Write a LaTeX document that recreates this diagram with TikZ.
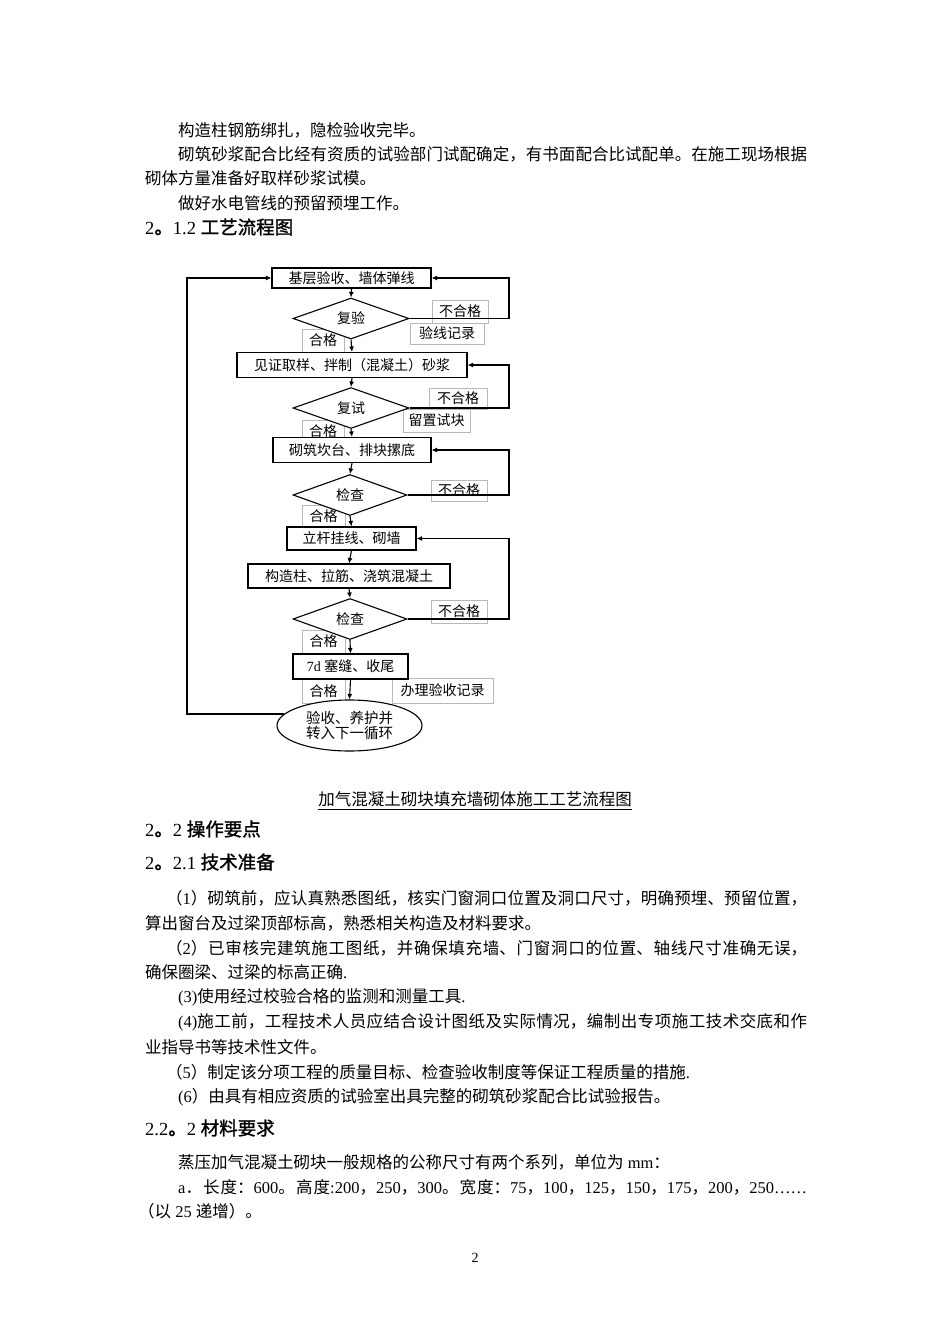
\documentclass[tikz,border=0pt]{standalone}
\usepackage{fontspec}
\setmainfont{Liberation Serif}
\newfontfamily\cjk{Noto Sans CJK SC}
\newfontfamily\cjkh[FakeBold=1.3]{Noto Sans CJK SC}
\newfontfamily\ltnfont{Liberation Serif}
\newcommand\ltn[1]{{\ltnfont #1}}
\usetikzlibrary{shapes.geometric,arrows.meta}
\XeTeXlinebreaklocale "zh"
\XeTeXlinebreakskip=0pt plus 6pt minus 0.3pt
\begin{document}
\begin{tikzpicture}[x=1pt,y=-1pt,
  fc/.style={font=\cjk\fontsize{14}{16}\selectfont, inner sep=0pt},
  pbox/.style={fc, draw, line width=1.1pt, fill=white, rectangle},
  pdia/.style={fc, draw, line width=1.1pt, fill=white, diamond},
  plab/.style={fc, draw=black!28, line width=0.6pt, rectangle},
  pell/.style={draw, line width=1.1pt, fill=white, ellipse, align=center, inner sep=0pt,
    font=\cjk\fontsize{14.5}{15.5}\selectfont},
  flow/.style={line width=1.1pt, -{Latex[length=5.5pt,width=5pt]}},
  body/.style={anchor=west, inner sep=0pt, font=\cjk\fontsize{16.5}{19}\selectfont},
  jbody/.style={body, text width=#1, align=justify,
    execute at begin node={\parfillskip=0pt\relax}},
  head/.style={anchor=west, inner sep=0pt, font=\cjkh\fontsize{18.5}{21}\selectfont},
  captxt/.style={inner sep=0pt, font=\cjk\fontsize{16.5}{19}\selectfont}
]
\fill[white] (0,0) rectangle (950,1344);
\useasboundingbox (0,0) rectangle (950,1344);

% ---------- top text ----------
\node[body] (t1) at (178,130) {构造柱钢筋绑扎，隐检验收完毕。};
\node[jbody=629pt] (t2) at (178,154) {砌筑砂浆配合比经有资质的试验部门试配确定，有书面配合比试配单。在施工现场根据};
\node[body] (t3) at (145,178) {砌体方量准备好取样砂浆试模。};
\node[body] (t4) at (178,203) {做好水电管线的预留预埋工作。};
\node[head] (h1) at (145,227) {\ltn{2}。\ltn{1.2 }工艺流程图};

% ---------- labels (drawn first) ----------
\node[plab, minimum width=56pt, minimum height=23pt] (l1) at (460,311.5) {不合格};
\node[plab, minimum width=74pt, minimum height=21pt] (l2) at (447,333.5) {验线记录};
\node[plab, minimum width=42pt, minimum height=23pt] (l3) at (323,340.5) {合格};
\node[plab, minimum width=58pt, minimum height=21pt] (l4) at (458,398.5) {不合格};
\node[plab, minimum width=67pt, minimum height=23pt] (l5) at (436.5,420.5) {留置试块};
\node[plab, minimum width=42pt, minimum height=22pt] (l6) at (323,431) {合格};
\node[plab, minimum width=56pt, minimum height=21pt] (l7) at (459,490.5) {不合格};
\node[plab, minimum width=43pt, minimum height=22pt] (l8) at (323.5,516) {合格};
\node[plab, minimum width=56pt, minimum height=23pt] (l9) at (459,611.5) {不合格};
\node[plab, minimum width=43pt, minimum height=23pt] (l10) at (323.5,641.5) {合格};
\node[plab, minimum width=43pt, minimum height=24pt] (l11) at (323.5,691) {合格};
\node[plab, minimum width=101pt, minimum height=25pt] (l12) at (442.5,690.5) {办理验收记录};

% ---------- flow nodes ----------
\node[pbox, minimum width=159pt, minimum height=20pt] (b1) at (351.5,278) {基层验收、墙体弹线};
\node[pdia, minimum width=116pt, minimum height=39pt] (d1) at (351,318.5) {复验};
\node[pbox, minimum width=230pt, minimum height=25pt] (b2) at (352,365) {见证取样、拌制（混凝土）砂浆};
\node[pdia, minimum width=116pt, minimum height=40pt] (d2) at (351,408) {复试};
\node[pbox, minimum width=158pt, minimum height=25pt] (b3) at (352,450) {砌筑坎台、排块摞底};
\node[pdia, minimum width=114pt, minimum height=36pt] (d3) at (350,495) {检查};
\node[pbox, minimum width=129pt, minimum height=23pt] (b4) at (351.5,538.5) {立杆挂线、砌墙};
\node[pbox, minimum width=202pt, minimum height=24pt] (b5) at (349,576) {构造柱、拉筋、浇筑混凝土};
\node[pdia, minimum width=114pt, minimum height=36pt] (d4) at (350,619) {检查};
\node[pbox, minimum width=115pt, minimum height=25pt] (b6) at (350.5,666.5) {\ltn{7d }塞缝、收尾};
\node[pell, minimum width=145pt, minimum height=51pt] (el) at (349.5,725.5) {\raisebox{-2pt}{验收、养护并}\\\raisebox{-2pt}{转入下一循环}};

\coordinate (rx) at (509,0);
\coordinate (lx) at (187,0);

% ---------- connectors ----------
\draw[flow] (b1.south) -- (d1.north);
\draw[flow] (d1.south) -- (b2.north);
\draw[flow] (b2.south) -- (d2.north);
\draw[flow] (d2.south) -- (b3.north);
\draw[flow] (b3.south) -- (d3.north);
\draw[flow] (d3.south) -- (b4.north);
\draw[flow] (b4.south) -- (b5.north);
\draw[flow] (b5.south) -- (d4.north);
\draw[flow] (d4.south) -- (b6.north);
\draw[flow] (b6.south) -- (el.north);

\draw[flow] (d1.east) -- (d1.east -| rx) |- (b1.east);
\draw[flow] (d2.east) -- (d2.east -| rx) |- (b2.east);
\draw[flow] (d3.east) -- (d3.east -| rx) |- (b3.east);
\draw[flow] (d4.east) -- (d4.east -| rx) |- (b4.east);
\draw[flow] (el.170) -- (el.170 -| lx) |- (b1.west);

% ---------- caption ----------
\node[captxt] (cp) at (475,799) {加气混凝土砌块填充墙砌体施工工艺流程图};
\draw[line width=0.7pt] ([yshift=-2pt]cp.south west) -- ([yshift=-2pt]cp.south east);

% ---------- lower text ----------
\node[head] (h2) at (145,829) {\ltn{2}。\ltn{2 }操作要点};
\node[head] (h3) at (145,862) {\ltn{2}。\ltn{2.1 }技术准备};
\node[jbody=641pt] (p1) at (166,898) {（\ltn{1}）砌筑前，应认真熟悉图纸，核实门窗洞口位置及洞口尺寸，明确预埋、预留位置，};
\node[body] (p2) at (145,923) {算出窗台及过梁顶部标高，熟悉相关构造及材料要求。};
\node[jbody=641pt] (p3) at (166,948) {（\ltn{2}）已审核完建筑施工图纸，并确保填充墙、门窗洞口的位置、轴线尺寸准确无误，};
\node[body] (p4) at (145,972) {确保圈梁、过梁的标高正确\ltn{.}};
\node[body] (p5) at (178,997) {\ltn{(3)}使用经过校验合格的监测和测量工具\ltn{.}};
\node[jbody=629pt] (p6) at (178,1022) {\ltn{(4)}施工前，工程技术人员应结合设计图纸及实际情况，编制出专项施工技术交底和作};
\node[body] (p7) at (145,1047) {业指导书等技术性文件。};
\node[body] (p8) at (166,1072) {（\ltn{5}）制定该分项工程的质量目标、检查验收制度等保证工程质量的措施\ltn{.}};
\node[body] (p9) at (178,1097) {\ltn{(6}）由具有相应资质的试验室出具完整的砌筑砂浆配合比试验报告。};
\node[head] (h4) at (145,1128) {\ltn{2.2}。\ltn{2 }材料要求};
\node[body] (p10) at (178,1162) {蒸压加气混凝土砌块一般规格的公称尺寸有两个系列，单位为\ltn{ mm}：};
\node[jbody=629pt] (p11) at (178,1187) {\ltn{a}．长度：\ltn{600}。高度\ltn{:200}，\ltn{250}，\ltn{300}。宽度：\ltn{75}，\ltn{100}，\ltn{125}，\ltn{150}，\ltn{175}，\ltn{200}，\ltn{250……}};
\node[body] (p12) at (138,1211) {（以\ltn{ 25 }递增）。};
\node[inner sep=0pt, font=\ltnfont\fontsize{14}{16}\selectfont] (pg) at (475,1258) {2};
\end{tikzpicture}
\end{document}
